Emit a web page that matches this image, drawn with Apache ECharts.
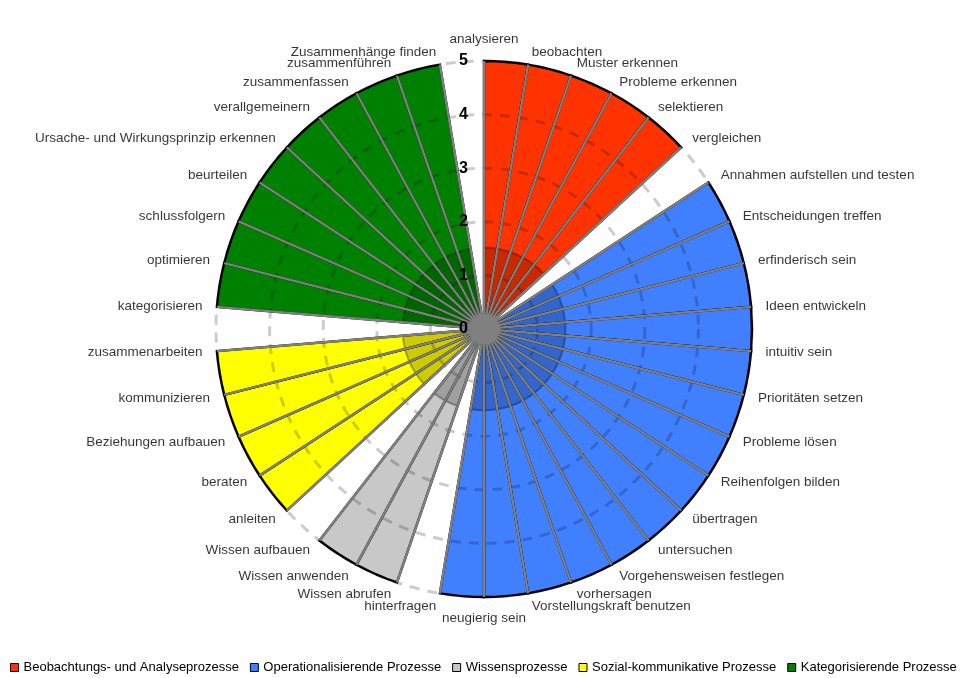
<!DOCTYPE html>
<html><head><meta charset="utf-8">
<script src="https://cdn.jsdelivr.net/npm/echarts@6/dist/echarts.min.js"></script>
<style>html,body{margin:0;padding:0;background:#fff}#c{width:964px;height:678px}</style>
</head><body><div id="c"></div>
<script>
// Categories clockwise from the top
const categories = ['analysieren','beobachten','Muster erkennen','Probleme erkennen','selektieren','vergleichen',
  'Annahmen aufstellen und testen','Entscheidungen treffen','erfinderisch sein','Ideen entwickeln','intuitiv sein',
  'Prioritäten setzen','Probleme lösen','Reihenfolgen bilden','übertragen','untersuchen','Vorgehensweisen festlegen',
  'vorhersagen','Vorstellungskraft benutzen','neugierig sein','hinterfragen',
  'Wissen abrufen','Wissen anwenden','Wissen aufbauen',
  'anleiten','beraten','Beziehungen aufbauen','kommunizieren','zusammenarbeiten',
  'kategorisieren','optimieren','schlussfolgern','beurteilen','Ursache- und Wirkungsprinzip erkennen',
  'verallgemeinern','zusammenfassen','zusammenführen','Zusammenhänge finden'];
const groupNames = ['Beobachtungs- und Analyseprozesse','Operationalisierende Prozesse','Wissensprozesse',
  'Sozial-kommunikative Prozesse','Kategorisierende Prozesse'];
const groupOfCategory = [0,0,0,0,0,0, 1,1,1,1,1,1,1,1,1,1,1,1,1,1,1, 2,2,2, 3,3,3,3,3, 4,4,4,4,4,4,4,4,4];
const scores = [5,5,5,5,5,0, 5,5,5,5,5,5,5,5,5,5,5,5,5,5,0, 5,5,0, 5,5,5,5,0, 5,5,5,5,5,5,5,5,0];
const innerScores = [1.52,1.52,1.52,1.52,1.52,0, 1.52,1.52,1.52,1.52,1.52,1.52,1.52,1.52,1.52,1.52,1.52,1.52,1.52,1.52,0,
  1.52,1.52,0, 1.52,1.52,1.52,1.52,0, 1.52,1.52,1.52,1.52,1.52,1.52,1.52,1.52,0];
const radiusTicks = [0,1,2,3,4,5];

const groupColors = ['#ff3300','#4080ff','#c8c8c8','#ffff00','#008000'];
const N = categories.length;
const center = [484, 329];
const R = 268;      // plot radius
const RL = 281;     // radius where category labels are anchored

const chart = echarts.init(document.getElementById('c'));

const groupSeries = groupNames.map((g, gi) => ({
  name: g, type: 'bar', coordinateSystem: 'polar', polarIndex: 0,
  data: categories.map((c, i) => (groupOfCategory[i] === gi && scores[i] > 0) ? scores[i] : null),
  barGap: '-100%', barCategoryGap: '0%', z: 2,
  itemStyle: { color: groupColors[gi], borderColor: '#000', borderWidth: 2.4 }
}));

const labelData = categories.map((c, i) => {
  const a = i * 360 / N;
  const pos = a < 0.01 ? 'top' : (Math.abs(a - 180) < 0.01 ? 'bottom' : (a < 180 ? 'right' : 'left'));
  return { name: c, value: [radiusTicks[radiusTicks.length - 1], c], label: { position: pos } };
});

chart.setOption({
  animation: false,
  textStyle: { fontFamily: 'Liberation Sans, Arial, sans-serif' },
  polar: [{ center: center, radius: R }, { center: center, radius: RL }],
  angleAxis: [
    { polarIndex: 0, type: 'category', data: categories, startAngle: 90, clockwise: true, z: 10,
      axisLine: { show: false }, axisTick: { show: false }, axisLabel: { show: false, interval: 0 },
      splitLine: { show: true, interval: 0, lineStyle: { color: '#808080', width: 2.4 } } },
    { polarIndex: 1, type: 'category', data: categories, startAngle: 90 + 180 / N, clockwise: true,
      axisLine: { show: false }, axisTick: { show: false }, axisLabel: { show: false }, splitLine: { show: false } }
  ],
  radiusAxis: [
    { polarIndex: 0, type: 'value', min: 0, max: 5, interval: 1, z: 10,
      axisLine: { show: false }, axisTick: { show: false },
      axisLabel: { fontSize: 16, fontWeight: 'bold', color: '#000', margin: 16 },
      splitLine: { show: true, lineStyle: { color: 'rgba(0,0,0,0.2)', width: 3, type: [10, 8] } } },
    { polarIndex: 1, type: 'value', min: 0, max: 5, axisLine: { show: false }, axisTick: { show: false },
      axisLabel: { show: false }, splitLine: { show: false } }
  ],
  legend: {
    data: groupNames, top: 661, left: 10, padding: 0, icon: 'rect', itemWidth: 8, itemHeight: 8, itemGap: 11,
    textStyle: { fontSize: 13, color: '#000' },
    itemStyle: { borderColor: '#000', borderWidth: 1 }
  },
  series: groupSeries.concat([
    { name: 'inner', type: 'bar', coordinateSystem: 'polar', polarIndex: 0,
      data: innerScores.map(v => v > 0 ? v : null), barGap: '-100%', barCategoryGap: '0%', z: 3,
      itemStyle: { color: 'rgba(0,0,0,0.2)', borderColor: 'rgba(0,0,0,0.3)', borderWidth: 2 } },
    { name: 'center', type: 'scatter', coordinateSystem: 'polar', polarIndex: 0,
      data: [[0, categories[0]]], symbol: 'circle', symbolSize: 30, z: 20,
      itemStyle: { color: '#808080' } },
    { name: 'labels', type: 'scatter', coordinateSystem: 'polar', polarIndex: 1,
      data: labelData, symbol: 'circle', symbolSize: 1, z: 20,
      itemStyle: { color: 'rgba(0,0,0,0)' },
      label: { show: true, formatter: '{b}', fontSize: 13.5, color: '#000', distance: 1 } }
  ])
});
</script></body></html>
